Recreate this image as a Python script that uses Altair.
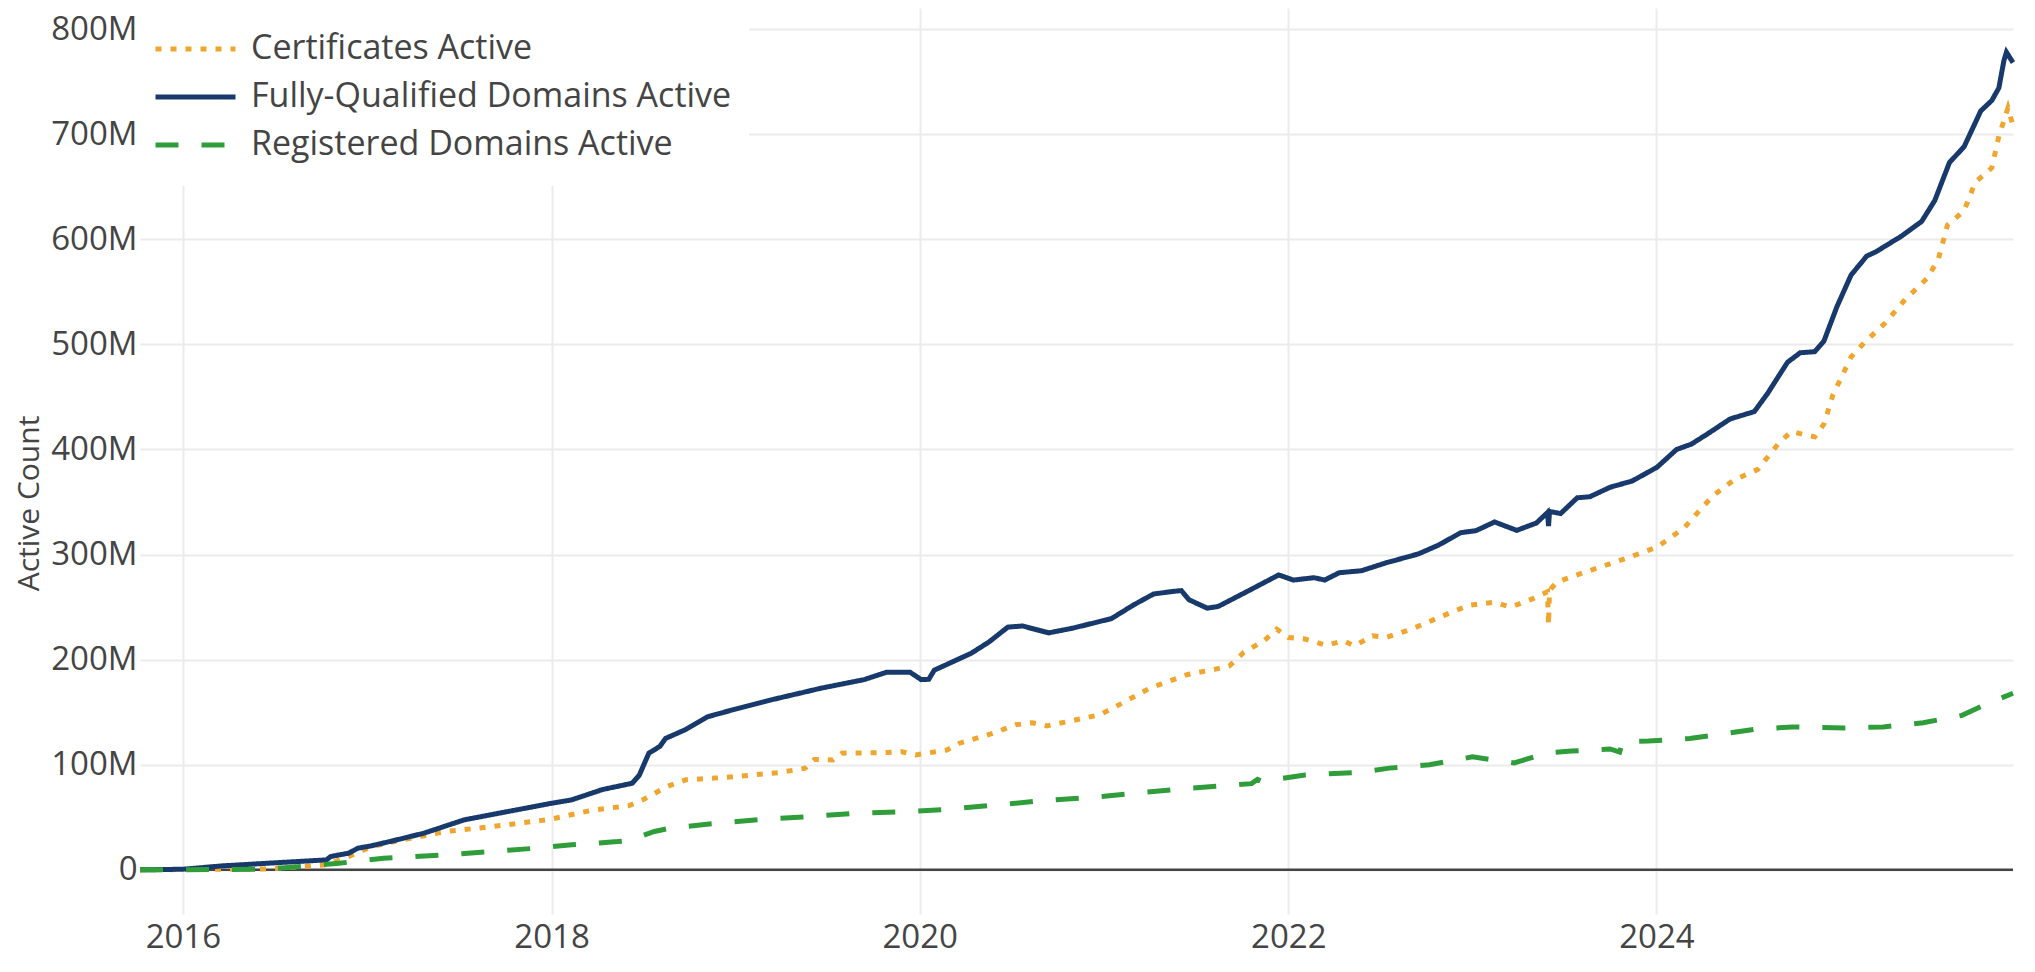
import altair as alt
import pandas as pd

# ---------------- data (values in millions) ----------------
cert_dates = [
    "2015-10-08", "2016-06-17", "2016-10-12", "2016-11-25", "2017-01-08", "2017-03-11",
    "2017-06-06", "2017-09-02", "2017-12-28", "2018-03-25", "2018-06-03", "2018-07-01",
    "2018-08-18", "2018-09-24", "2018-11-21", "2019-01-01", "2019-03-29", "2019-05-19",
    "2019-06-06", "2019-07-13", "2019-07-31", "2019-10-27", "2019-11-25", "2019-12-24",
    "2020-02-24", "2020-03-20", "2020-05-26", "2020-07-09", "2020-08-11", "2020-09-09",
    "2020-10-30", "2020-12-24", "2021-01-30", "2021-04-02", "2021-06-14", "2021-08-08",
    "2021-09-06", "2021-10-05", "2021-11-14", "2021-12-09", "2022-01-01", "2022-02-03",
    "2022-03-18", "2022-04-20", "2022-05-12", "2022-06-17", "2022-07-13", "2022-09-02",
    "2022-10-26", "2022-12-24", "2023-02-14", "2023-03-18", "2023-05-01", "2023-05-30",
    "2023-06-01", "2023-06-03", "2023-06-18", "2023-08-11", "2023-11-03", "2024-01-02",
    "2024-02-24", "2024-04-22", "2024-06-03", "2024-07-20", "2024-08-29", "2024-09-24",
    "2024-10-12", "2024-11-10", "2024-11-28", "2024-12-16", "2025-01-21", "2025-02-17",
    "2025-03-29", "2025-05-08", "2025-06-21", "2025-07-13", "2025-07-31", "2025-09-02",
    "2025-09-24", "2025-10-27", "2025-11-10", "2025-11-28", "2025-12-08",
]
cert_values = [
    0, 0.8, 4.8, 12.7, 22, 28.5,
    36.5, 41, 48, 57, 61, 66.6,
    79.3, 85.7, 87.3, 88.8, 92.6, 96.7,
    105, 104.6, 111, 111.6, 112.6, 109.4,
    114, 120.5, 130, 138, 140, 137,
    142, 147.7, 157, 173, 185.7, 190.8,
    194, 207, 218, 229, 221, 219.6,
    213.6, 218, 213, 222.7, 221, 229,
    240, 251.6, 254.7, 250, 258, 264.6,
    233, 266, 274, 283, 296.6, 307,
    325, 356, 371, 381, 405, 417,
    415, 412, 424, 452, 488, 502,
    520, 542.5, 563, 581, 613.5, 627,
    654, 668, 698, 725, 708,
]

fqdn_dates = [
    "2015-10-08", "2016-01-01", "2016-03-20", "2016-06-17", "2016-10-12", "2016-10-20",
    "2016-11-25", "2016-12-13", "2017-01-08", "2017-02-14", "2017-04-23", "2017-07-12",
    "2017-10-01", "2017-12-28", "2018-02-10", "2018-04-12", "2018-06-10", "2018-06-24",
    "2018-07-13", "2018-08-04", "2018-08-15", "2018-09-24", "2018-11-06", "2019-01-01",
    "2019-03-15", "2019-06-21", "2019-09-13", "2019-10-27", "2019-12-13", "2020-01-04",
    "2020-01-19", "2020-01-30", "2020-04-12", "2020-05-18", "2020-06-24", "2020-07-23",
    "2020-09-13", "2020-10-30", "2021-01-15", "2021-02-28", "2021-04-09", "2021-05-19",
    "2021-06-03", "2021-06-18", "2021-07-24", "2021-08-15", "2021-10-20", "2021-12-13",
    "2022-01-11", "2022-02-21", "2022-03-14", "2022-04-12", "2022-05-26", "2022-07-13",
    "2022-09-16", "2022-10-26", "2022-12-09", "2023-01-08", "2023-02-14", "2023-03-30",
    "2023-05-08", "2023-05-30", "2023-06-01", "2023-06-03", "2023-06-25", "2023-07-28",
    "2023-08-22", "2023-10-01", "2023-11-14", "2024-01-02", "2024-02-10", "2024-03-10",
    "2024-04-12", "2024-05-26", "2024-07-13", "2024-08-08", "2024-09-17", "2024-10-12",
    "2024-11-10", "2024-11-28", "2024-12-24", "2025-01-21", "2025-02-21", "2025-03-11",
    "2025-05-01", "2025-06-10", "2025-07-06", "2025-08-04", "2025-09-02", "2025-10-05",
    "2025-10-27", "2025-11-10", "2025-11-20", "2025-11-25", "2025-12-08",
]
fqdn_values = [
    0, 0.6, 3.8, 6.3, 9.5, 12.7,
    15.9, 20.6, 22.8, 26.9, 34.9, 47.6,
    55, 63, 66.6, 76.4, 82.4, 90,
    111, 117.5, 125, 133.5, 145.6, 153,
    162, 173, 181, 188, 188, 181,
    181.3, 190, 206, 217, 231, 232,
    225.5, 229.9, 239, 252, 262.5, 265,
    265.7, 257, 249, 250.6, 267, 280.6,
    275.7, 278, 275.7, 282.7, 284.6, 292,
    300.6, 309, 320.8, 322.7, 331, 323,
    330, 340, 327, 341, 339, 354,
    355, 364, 370, 383, 400, 405,
    415, 429, 436, 453, 483, 492,
    493, 503, 536, 566, 584, 588,
    603, 617, 637, 673, 688, 722,
    732, 744, 770, 778, 768,
]

reg_dates = [
    "2015-10-08", "2016-06-17", "2016-11-06", "2017-02-02", "2017-06-06", "2017-09-02",
    "2017-12-01", "2018-02-10", "2018-05-12", "2018-06-03", "2018-07-24", "2018-08-25",
    "2018-11-14", "2019-02-14", "2019-05-16", "2019-08-15", "2019-11-18", "2020-02-17",
    "2020-05-18", "2020-08-18", "2021-01-01", "2021-06-01", "2021-10-20", "2021-11-01",
    "2021-11-10", "2022-02-03", "2022-05-19", "2022-07-20", "2022-10-08", "2023-01-01",
    "2023-03-25", "2023-05-30", "2023-07-16", "2023-10-01", "2023-10-20", "2023-10-26",
    "2023-12-16", "2024-03-07", "2024-07-13", "2024-09-27", "2025-01-08", "2025-03-26",
    "2025-06-13", "2025-08-29", "2025-10-20", "2025-12-08",
]
reg_values = [
    0, 0.6, 6.3, 11.1, 14.3, 17.4,
    20.6, 23.8, 26.9, 27.9, 36.5, 39.7,
    43.9, 47.7, 50.3, 53.5, 55.1, 57.3,
    61.1, 65.2, 70, 77, 82, 86,
    84, 90.3, 92.6, 96.8, 100, 107.5,
    101.8, 111.3, 113, 115, 112, 122,
    122.6, 125, 133.7, 136, 135, 136,
    140, 147, 158.5, 168,
]

series_names = ["Certificates Active", "Fully-Qualified Domains Active", "Registered Domains Active"]
series_colors = ["#f0a62e", "#17396b", "#2f9e3a"]
series_dashes = [[6, 9], [1, 0], [23, 23]]
y_ticks = [0, 100, 200, 300, 400, 500, 600, 700, 800]
x_tick_years = [2016, 2018, 2020, 2022, 2024]

# ---------------- build tables ----------------
def frame(dates, values, name):
    return pd.DataFrame({"date": dates, "value": values, "series": name})

cert_df = frame(cert_dates, cert_values, series_names[0])
fqdn_df = frame(fqdn_dates, fqdn_values, series_names[1])
reg_df = frame(reg_dates, reg_values, series_names[2])
zero_df = pd.DataFrame({"value": [0]})

FONT = "Open Sans"
TXT = "#444444"
W, H = 1873, 906

def dt(y, m, d):
    return alt.DateTime(year=y, month=m, date=d, utc=True)

x_enc = alt.X(
    "date:T",
    scale=alt.Scale(domain=[dt(2015, 10, 8), dt(2025, 12, 8)]),
    axis=alt.Axis(
        values=[dt(y, 1, 1) for y in x_tick_years],
        format="%Y", formatType="utc", title=None,
        grid=True, gridColor="#ebebeb", gridWidth=2,
        domain=False, ticks=False,
        labelFontSize=33, labelFont=FONT, labelColor=TXT, labelPadding=7,
        labelFlush=False,
    ),
)
y_enc = alt.Y(
    "value:Q",
    scale=alt.Scale(domain=[-42, 820], nice=False, zero=False),
    axis=alt.Axis(
        values=y_ticks,
        labelExpr="datum.value == 0 ? '0' : datum.value + 'M'",
        title="Active Count", titleFontSize=30, titleFont=FONT, titleColor=TXT,
        titleFontWeight="normal", titleAngle=270, titleX=-111, titleY=495,
        titleAlign="center", titleBaseline="middle",
        grid=True, gridColor="#ebebeb", gridWidth=2,
        domain=False, ticks=False,
        labelFontSize=33, labelFont=FONT, labelColor=TXT, labelPadding=3,
    ),
)
color_enc = alt.Color(
    "series:N",
    scale=alt.Scale(domain=series_names, range=series_colors),
    legend=alt.Legend(
        title=None, orient="none", legendX=-4, legendY=0, direction="vertical",
        fillColor="white", padding=17, symbolType="stroke", symbolSize=6400,
        symbolStrokeWidth=5, labelFontSize=34, labelFont=FONT, labelColor=TXT,
        labelOffset=13, rowPadding=0, clipHeight=48, labelLimit=0,
    ),
)
dash_enc = alt.StrokeDash(
    "series:N",
    scale=alt.Scale(domain=series_names, range=series_dashes),
    legend=None,
)

zero_rule = alt.Chart(zero_df).mark_rule(color="#444444", strokeWidth=2.5).encode(y=alt.Y("value:Q"))

def line(df, width):
    return alt.Chart(df).mark_line(strokeWidth=width, strokeCap="butt").encode(
        x=x_enc, y=y_enc, color=color_enc, strokeDash=dash_enc
    )

chart = alt.layer(
    zero_rule,
    line(cert_df, 5),
    line(fqdn_df, 5),
    line(reg_df, 5),
).properties(
    width=W, height=H,
    autosize=alt.AutoSizeParams(type="none"),
    padding={"left": 132, "top": 0, "right": 14, "bottom": 50},
    background="white",
).configure_view(stroke=None)

chart.save("out.html", embed_options={"renderer": "svg", "actions": False})
